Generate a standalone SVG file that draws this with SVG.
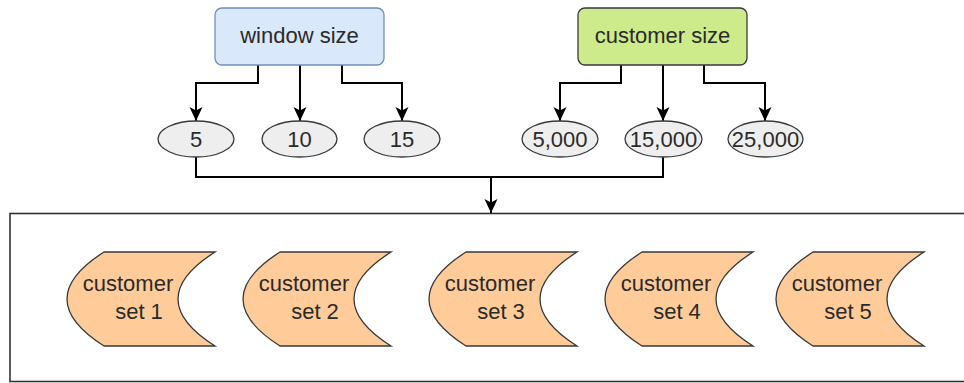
<svg xmlns="http://www.w3.org/2000/svg" width="964" height="383" viewBox="0 0 964 383">
  <style>
    text { font-family: "Liberation Sans", Arial, sans-serif; font-size: 22px; fill: #2a2a2a; }
    .mid { text-anchor: middle; }
    .edge { fill: none; stroke: #000000; stroke-width: 2; }
    .val { fill: #eeeeee; stroke: #36393d; stroke-width: 1.3; }
    .set { fill: #ffcc99; stroke: #36393d; stroke-width: 1.3; }
  </style>
  <defs>
    <marker id="arrow" viewBox="0 0 14 14" refX="14" refY="7" markerWidth="14" markerHeight="14" markerUnits="userSpaceOnUse" orient="auto">
      <path d="M0,0.5 L14,7 L0,13.5 L3.5,7 Z" fill="#000000"/>
    </marker>
    <!-- stored-data style shape: convex left, concave right -->
    <path id="setShape" d="M37,0 L148,0 Q74,47 148,94 L37,94 Q-37,47 37,0 Z"/>
  </defs>

  <!-- container -->
  <g id="container">
    <rect x="10" y="213.5" width="970" height="168" fill="#ffffff" stroke="#333333" stroke-width="1.6"/>
  </g>

  <!-- connectors -->
  <g id="connectors">
    <path class="edge" d="M258,65 V83 H196 V121" marker-end="url(#arrow)"/>
    <path class="edge" d="M300,65 V121" marker-end="url(#arrow)"/>
    <path class="edge" d="M342,65 V83 H402 V121" marker-end="url(#arrow)"/>
    <path class="edge" d="M621,65 V83 H560 V121" marker-end="url(#arrow)"/>
    <path class="edge" d="M663,65 V121" marker-end="url(#arrow)"/>
    <path class="edge" d="M704,65 V83 H765 V121" marker-end="url(#arrow)"/>
    <path class="edge" d="M196,157 V177 H663 V157"/>
    <path class="edge" d="M491,177 V213" marker-end="url(#arrow)"/>
  </g>

  <!-- parameter boxes -->
  <g id="window-size">
    <rect x="215" y="8" width="169" height="57" rx="7" fill="#dae8fc" stroke="#6c8ebf" stroke-width="1.3"/>
    <text class="mid" x="299.5" y="43">window size</text>
  </g>
  <g id="customer-size">
    <rect x="578" y="8" width="169" height="57" rx="7" fill="#cdeb8b" stroke="#36393d" stroke-width="1.3"/>
    <text class="mid" x="662.5" y="43">customer size</text>
  </g>

  <!-- parameter values -->
  <g id="w5"><ellipse class="val" cx="196" cy="139" rx="38" ry="18"/><text class="mid" x="196" y="147">5</text></g>
  <g id="w10"><ellipse class="val" cx="299.5" cy="139" rx="37.5" ry="18"/><text class="mid" x="299.5" y="147">10</text></g>
  <g id="w15"><ellipse class="val" cx="402" cy="139" rx="38" ry="18"/><text class="mid" x="402" y="147">15</text></g>
  <g id="c5000"><ellipse class="val" cx="560" cy="139" rx="38" ry="18"/><text class="mid" x="560" y="147">5,000</text></g>
  <g id="c15000"><ellipse class="val" cx="663.5" cy="139" rx="38.5" ry="18"/><text class="mid" x="663.5" y="147">15,000</text></g>
  <g id="c25000"><ellipse class="val" cx="765.5" cy="139" rx="37.5" ry="18"/><text class="mid" x="765.5" y="147">25,000</text></g>

  <!-- customer sets -->
  <g id="set1" transform="translate(67,252)">
    <use href="#setShape" class="set"/>
    <text class="mid" x="61" y="39">customer</text>
    <text class="mid" x="72" y="67">set 1</text>
  </g>
  <g id="set2" transform="translate(243,252)">
    <use href="#setShape" class="set"/>
    <text class="mid" x="61" y="39">customer</text>
    <text class="mid" x="72" y="67">set 2</text>
  </g>
  <g id="set3" transform="translate(429,252)">
    <use href="#setShape" class="set"/>
    <text class="mid" x="61" y="39">customer</text>
    <text class="mid" x="72" y="67">set 3</text>
  </g>
  <g id="set4" transform="translate(605,252)">
    <use href="#setShape" class="set"/>
    <text class="mid" x="61" y="39">customer</text>
    <text class="mid" x="72" y="67">set 4</text>
  </g>
  <g id="set5" transform="translate(776,252)">
    <use href="#setShape" class="set"/>
    <text class="mid" x="61" y="39">customer</text>
    <text class="mid" x="72" y="67">set 5</text>
  </g>
</svg>
